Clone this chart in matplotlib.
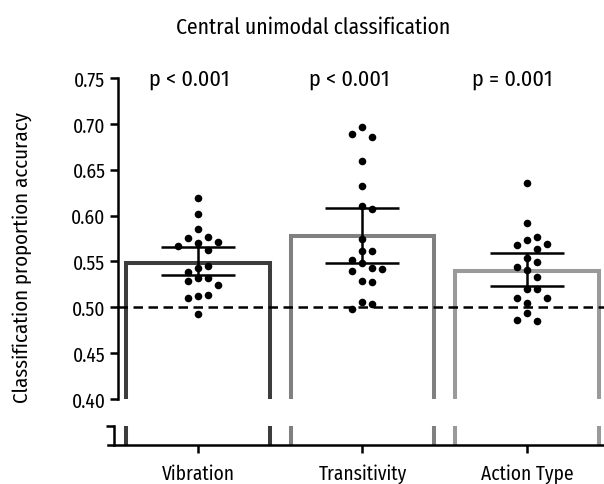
import numpy as np
import matplotlib.pyplot as plt

plt.rcParams['font.family'] = ['Fira Sans Condensed', 'Cabin Condensed', 'Roboto Condensed', 'DejaVu Sans']
plt.rcParams['font.stretch'] = 'condensed'

categories = ["Vibration", "Transitivity", "Action Type"]
means = [0.548, 0.578, 0.539]
ci_low = [0.535, 0.548, 0.5235]
ci_high = [0.5656, 0.6084, 0.5594]
p_labels = ["p < 0.001", "p < 0.001", "p = 0.001"]
bar_colors = ["#3c3c3c", "#808080", "#9a9a9a"]

vibration = [0.6186, 0.6015, 0.5852, 0.5761, 0.5751, 0.5699, 0.5707, 0.5626, 0.5670, 0.5424,
             0.5446, 0.5387, 0.5318, 0.5318, 0.5282, 0.5242, 0.5125, 0.5136, 0.5097, 0.4926]
transitivity = [0.6960, 0.6857, 0.6887, 0.6596, 0.6324, 0.6106, 0.6070, 0.5743, 0.5615, 0.5615,
                0.5514, 0.5481, 0.5427, 0.5398, 0.5416, 0.5289, 0.5271, 0.5060, 0.5035, 0.4980]
action_type = [0.6350, 0.5914, 0.5732, 0.5768, 0.5678, 0.5688, 0.5634, 0.5533, 0.5489, 0.5441,
               0.5405, 0.5332, 0.5198, 0.5198, 0.5097, 0.5097, 0.5042, 0.4934, 0.4853, 0.4861]
groups = [vibration, transitivity, action_type]


def swarm_offsets(values, xscale, yscale, gap):
    # simple beeswarm: push each dot sideways until it clears the ones already placed
    placed = []
    offsets = []
    for v in values:
        k = 0
        while True:
            for cand in ([0] if k == 0 else [k, -k]):
                ok = all(((cand - px) * gap) ** 2 + ((v - py) * yscale) ** 2 >= gap ** 2 * 0.9
                         for px, py in placed)
                if ok:
                    break
            else:
                k += 1
                continue
            break
        placed.append((cand, v))
        offsets.append(cand * gap / xscale)
    return offsets


fig = plt.figure(figsize=(6.04, 4.85), dpi=100)
ax = fig.add_axes([0.1788, 0.1753, 0.8212, 0.6619])
axb = fig.add_axes([0.1788, 0.0804, 0.8212, 0.0392])

x = np.arange(len(categories))
xlim = (-0.547, 2.468)
px_per_x = 496 / (xlim[1] - xlim[0])
px_per_y = 321 / 0.35

for a in (ax, axb):
    a.bar(x, means, width=0.875, facecolor='white', edgecolor=bar_colors, linewidth=2.9, zorder=1)
    a.set_xlim(*xlim)
    for s in ('top', 'right'):
        a.spines[s].set_visible(False)

# upper panel
yt = np.arange(0.40, 0.751, 0.05)
ax.set_ylim(0.40, 0.75)
ax.set_yticks(yt)
ax.set_yticklabels([f"{t:.2f}" for t in yt])
ax.spines['bottom'].set_visible(False)
ax.spines['left'].set_position(('axes', 0.02))
ax.spines['left'].set_linewidth(1.8)
ax.tick_params(axis='y', length=6, width=1.8, pad=3, labelsize=14)
ax.tick_params(axis='x', bottom=False, labelbottom=False)
ax.axhline(0.5, xmin=0.02, xmax=1, color='black', lw=1.8, ls=(0, (3.8, 2.2)), zorder=2)

lo = np.array(means) - np.array(ci_low)
hi = np.array(ci_high) - np.array(means)
ax.errorbar(x, means, yerr=[lo, hi], fmt='none', ecolor='black', elinewidth=1.8,
            capsize=26.5, capthick=1.8, zorder=3)

for i, vals in enumerate(groups):
    offs = swarm_offsets(vals, px_per_x, px_per_y, 10)
    ax.scatter(x[i] + np.array(offs), vals, s=30, color='black', zorder=4, linewidths=0)

p_shift = [-0.05, -0.08, -0.09]
for i, lab in enumerate(p_labels):
    ax.text(x[i] + p_shift[i], 0.75, lab, ha='center', va='center', fontsize=16)

# lower panel (broken axis)
axb.set_ylim(0.003, 0.02)
axb.set_yticks([0.02])
axb.set_yticklabels([])
axb.spines['left'].set_position(('axes', 0.012))
axb.spines['left'].set_linewidth(1.8)
axb.spines['bottom'].set_linewidth(1.8)
axb.tick_params(axis='y', length=6, width=1.8)
axb.set_xticks(x)
axb.set_xticklabels(categories)
axb.tick_params(axis='x', length=6, width=1.8, pad=7, labelsize=14)

fig.text(0.518, 1 - 28 / 485, "Central unimodal classification", ha='center', va='center', fontsize=15.5)
fig.text(22 / 604, 1 - 258 / 485, "Classification proportion accuracy", rotation=90,
         ha='center', va='center', fontsize=15)

fig.savefig("out.png", dpi=100)
